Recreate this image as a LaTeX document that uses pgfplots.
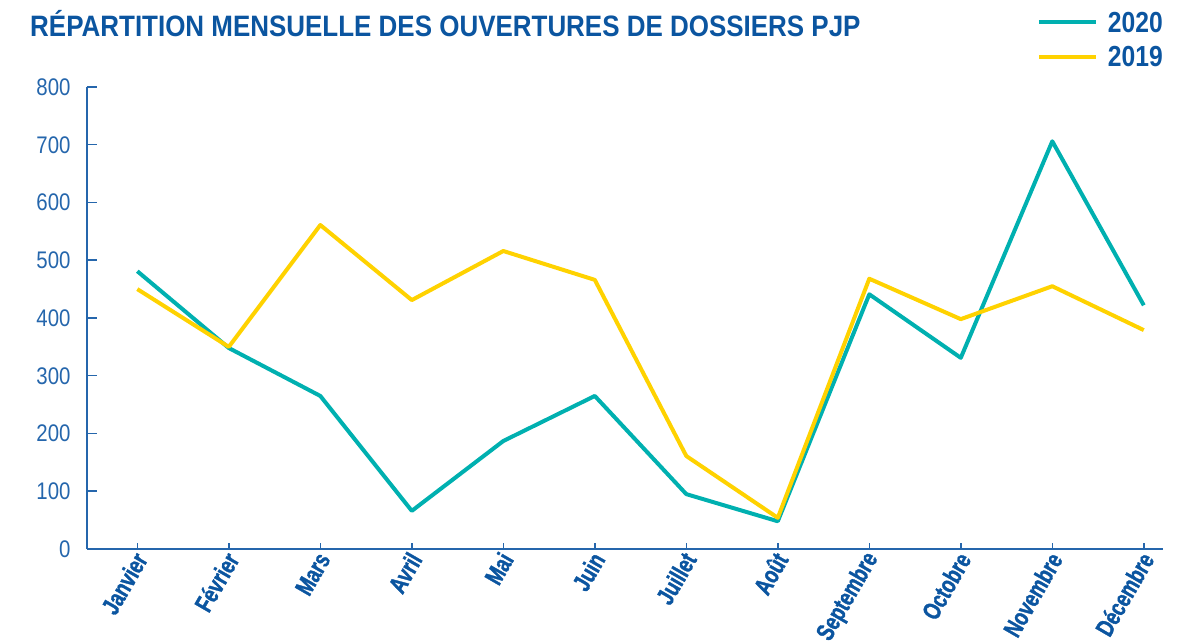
\documentclass[border=0pt]{standalone}
\usepackage{fontspec}
\usepackage{pgfplots}
\pgfplotsset{compat=1.18}
\newfontfamily\cond{Liberation Sans}[FakeStretch=0.85]
\newfontfamily\condt{Liberation Sans}[FakeStretch=0.88]
\newfontfamily\condb{Liberation Sans Bold}[FakeStretch=0.75, FakeBold=1.3]
\definecolor{blueT}{HTML}{0B55A0}
\definecolor{blueL}{HTML}{2566AC}
\definecolor{tealc}{HTML}{00B0B0}
\definecolor{yellowc}{HTML}{FFD200}
\begin{document}
\begin{tikzpicture}
\path[use as bounding box] (0pt,0pt) rectangle (1195pt,644pt);
\node[anchor=base west, text=blueT, font=\condt\bfseries\fontsize{29.5}{31}\selectfont, inner sep=0pt] at (30pt,607pt) {RÉPARTITION MENSUELLE DES OUVERTURES DE DOSSIERS PJP};
\begin{axis}[
  at={(87pt,95pt)}, anchor=south west,
  scale only axis, width=1076pt, height=462pt,
  xmin=-0.55, xmax=11.21, ymin=0, ymax=800,
  axis lines*=left,
  axis line style={blueL, line width=1.5pt},
  every axis plot/.append style={line width=4pt},
  tick align=inside,
  major tick length=10pt,
  xtick style={blueL, line width=1.5pt, /pgfplots/major tick length=6pt},
  ytick style={blueL, line width=1.5pt},
  ytick={0,100,...,800},
  xtick={0,...,11},
  xticklabels={Janvier,Février,Mars,Avril,Mai,Juin,Juillet,Août,Septembre,Octobre,Novembre,Décembre},
  xticklabel style={rotate=60, anchor=east, text=blueT, font=\condb\fontsize{25}{27}\selectfont, yshift=-6pt, xshift=0pt},
  yticklabel style={text=blueL, font=\cond\fontsize{24}{26}\selectfont, xshift=-13pt},
  /pgf/number format/assume math mode=true,
  clip=false,
  legend style={at={(1,1)}, anchor=south east, yshift=20pt, xshift=0pt, draw=none, fill=none, inner sep=0pt,
    font=\cond\bfseries\fontsize{29}{35}\selectfont, text=blueT, row sep=14pt,
    nodes={inner sep=0pt, text depth=0pt}},
  legend cell align=left,
  legend image code/.code={\draw[#1] (0pt,0pt) -- (57pt,0pt); \path (67pt,0pt);},
]
\addplot[tealc, line join=round] coordinates {(0,481) (1,348) (2,265) (3,66) (4,187) (5,265) (6,95) (7,48) (8,441) (9,331) (10,706) (11,422)};
\addlegendentry{2020}
\addplot[yellowc, line join=round] coordinates {(0,450) (1,350) (2,561) (3,431) (4,516) (5,466) (6,161) (7,54) (8,468) (9,398) (10,455) (11,379)};
\addlegendentry{2019}
\end{axis}
\end{tikzpicture}
\end{document}
